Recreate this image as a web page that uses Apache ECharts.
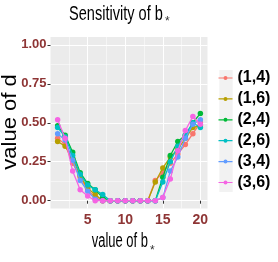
<!DOCTYPE html>
<html><head><meta charset="utf-8">
<script src="https://cdn.jsdelivr.net/npm/echarts@6/dist/echarts.min.js"></script>
<style>html,body{margin:0;padding:0;background:#fff}#c{width:278px;height:262px}</style>
</head><body><div id="c"></div>
<script>
const bValues = [1,2,3,4,5,6,7,8,9,10,11,12,13,14,15,16,17,18,19,20];
const seriesNames = ['(1,4)','(1,6)','(2,4)','(2,6)','(3,4)','(3,6)'];
const s14 = [0.40,0.36,0.24,0.15,0.07,0.02,0,0,0,0,0,0,0,0.13,0.18,0.24,0.30,0.36,0.43,0.50];
const s16 = [0.38,0.35,0.27,0.16,0.08,0.04,0,0,0,0,0,0,0,0.12,0.21,0.28,0.33,0.40,0.47,0.48];
const s24 = [0.48,0.42,0.31,0.18,0.11,0.07,0.02,0,0,0,0,0,0,0,0.15,0.29,0.38,0.42,0.50,0.56];
const s26 = [0.47,0.41,0.29,0.17,0.10,0.07,0.04,0,0,0,0,0,0,0,0.12,0.25,0.35,0.42,0.50,0.47];
const s34 = [0.43,0.39,0.26,0.13,0.06,0.01,0,0,0,0,0,0,0,0,0.02,0.19,0.28,0.40,0.49,0.52];
const s36 = [0.52,0.40,0.19,0.07,0.03,0,0,0,0,0,0,0,0,0,0.02,0.14,0.32,0.45,0.54,0.49];
const xTicks = [5,10,15,20];
const xMinor = [2.5,7.5,12.5,17.5];
const yTicks = [0,0.25,0.5,0.75,1];
const yMinor = [0.125,0.375,0.625,0.875];
const colors = ['#F8766D','#B79F00','#00BA38','#00BFC4','#619CFF','#F564E3'];
const allSeries = [s14,s16,s24,s26,s34,s36];
const titleText = 'Sensitivity of b';
const xTitleText = 'value of b';
const yTitleText = 'value of d';
const subText = '*';

const sans = '"Liberation Sans",Arial,sans-serif';
const labColor = '#8E3535';
const icon = 'path://M0,1.4L14,1.4L14,2.6L0,2.6Z M9,2A2,2,0,1,1,5,2A2,2,0,1,1,9,2Z';

const chart = echarts.init(document.getElementById('c'), null, {renderer:'canvas'});
const grid = {left:50.5, top:37, width:157, height:171.5, show:true, backgroundColor:'#EBEBEB', borderWidth:0,
  containLabel:false, outerBoundsMode:'none'};
const mainX = {
  type:'value', min:0.05, max:20.95, gridIndex:0, position:'bottom', offset:0,
  axisLine:{show:false},
  axisTick:{show:true, customValues:xTicks, length:3, lineStyle:{color:'#333', width:1}},
  axisLabel:{customValues:xTicks, color:labColor, fontFamily:sans, fontWeight:'bold', fontSize:14, margin:5},
  splitLine:{show:true, lineStyle:{color:'#fff', width:1.1}}
};
const minorX = {
  type:'value', min:0.05, max:20.95, gridIndex:0, position:'bottom', offset:0,
  axisLine:{show:false}, axisLabel:{show:false},
  axisTick:{show:false, customValues:xMinor},
  splitLine:{show:true, lineStyle:{color:'#fff', width:0.5}}
};
const mainY = {
  type:'value', min:-0.05, max:1.05, gridIndex:0, position:'left', offset:0,
  axisLine:{show:false},
  axisTick:{show:true, customValues:yTicks, length:3, lineStyle:{color:'#333', width:1}},
  axisLabel:{customValues:yTicks, color:labColor, fontFamily:sans, fontWeight:'bold', fontSize:13, margin:4,
    formatter:v=>v.toFixed(2)},
  splitLine:{show:true, lineStyle:{color:'#fff', width:1.1}}
};
const minorY = {
  type:'value', min:-0.05, max:1.05, gridIndex:0, position:'left', offset:0,
  axisLine:{show:false}, axisLabel:{show:false},
  axisTick:{show:false, customValues:yMinor},
  splitLine:{show:true, lineStyle:{color:'#fff', width:0.5}}
};

const series = allSeries.map((vals,i)=>({
  name:seriesNames[i], type:'line', xAxisIndex:1, yAxisIndex:1,
  data:bValues.map((b,j)=>[b, vals[j]]),
  symbol:'circle', symbolSize:5.5, showSymbol:true,
  lineStyle:{width:1.3, color:colors[i]}, itemStyle:{color:colors[i]},
  emphasis:{disabled:true}, animation:false, z:3+i
}));

chart.setOption({
  animation:false,
  grid:[grid],
  xAxis:[minorX, mainX],
  yAxis:[minorY, mainY],
  legend:{orient:'vertical', left:218.5, top:70, padding:0, itemWidth:14, itemHeight:16, itemGap:4.9,
    icon:icon, data:seriesNames,
    textStyle:{fontFamily:sans, fontWeight:'bold', fontSize:16, color:'#000', lineHeight:16}},
  graphic:[
    {type:'rect', left:219.3, top:70, shape:{width:13.4, height:122}, style:{fill:'#F2F2F2'}, z:-1},
    {type:'text', x:69, y:14, scaleX:0.71, style:{text:titleText, font:'20.5px '+sans, fill:'#000', textAlign:'left', textVerticalAlign:'middle'}},
    {type:'text', x:165, y:21.5, style:{text:subText, font:'12px '+sans, fill:'#333', textAlign:'left', textVerticalAlign:'middle'}},
    {type:'text', x:91.7, y:241.5, scaleX:0.665, style:{text:xTitleText, font:'19.5px '+sans, fill:'#000', textAlign:'left', textVerticalAlign:'middle'}},
    {type:'text', x:150, y:250.5, style:{text:subText, font:'12px '+sans, fill:'#333', textAlign:'left', textVerticalAlign:'middle'}},
    {type:'text', x:10, y:122, rotation:Math.PI/2, scaleY:0.95, style:{text:yTitleText, font:'22px '+sans, fill:'#000', textAlign:'center', textVerticalAlign:'middle'}}
  ],
  series: series
});
</script></body></html>
